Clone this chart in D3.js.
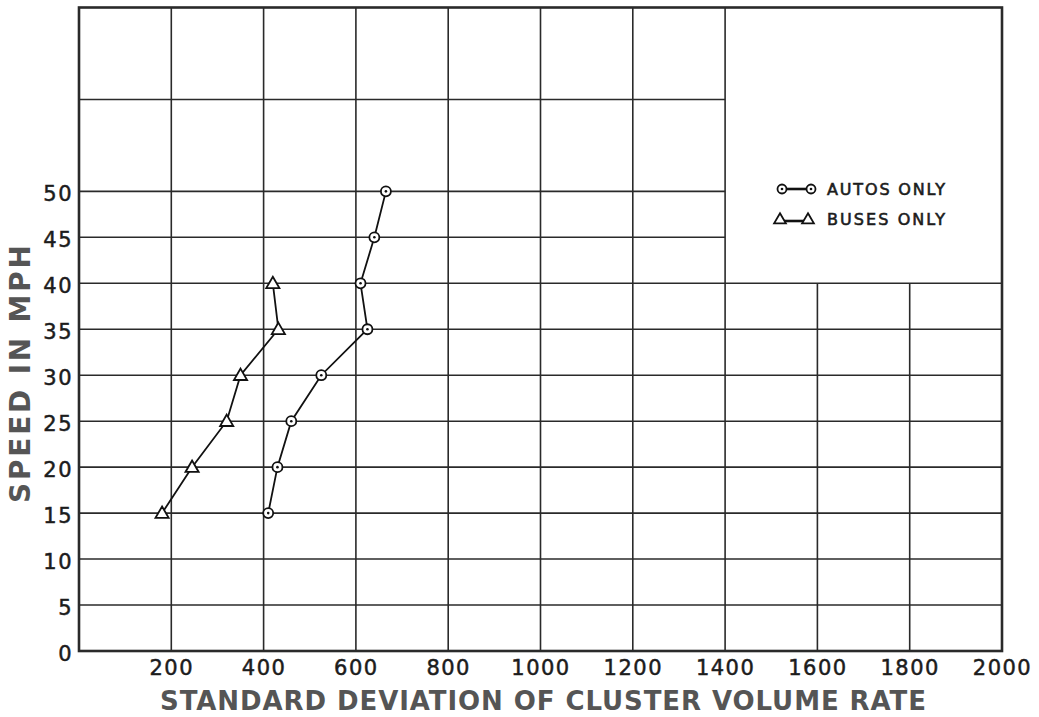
<!DOCTYPE html>
<html>
<head>
<meta charset="utf-8">
<script src="https://cdn.jsdelivr.net/npm/d3@7"></script>
<style>
  html, body { margin: 0; padding: 0; background: #fff; }
  svg { display: block; }
  text { font-family: "DejaVu Sans", "Liberation Sans", sans-serif; }
</style>
</head>
<body>
<svg id="chart" width="1039" height="717"></svg>
<script>
// Speed (mph) observed for each series
const speeds = [15, 20, 25, 30, 35, 40, 45, 50];
// Standard deviation of cluster volume rate, autos only
const autosSD = [410, 430, 460, 525, 625, 610, 640, 665];
// Buses only (measured up to 40 mph)
const busSpeeds = [15, 20, 25, 30, 35, 40];
const busesSD = [180, 245, 320, 350, 432, 420];

// Axis ticks
const xTicks = [200, 400, 600, 800, 1000, 1200, 1400, 1600, 1800, 2000];
const yTicks = [0, 5, 10, 15, 20, 25, 30, 35, 40, 45, 50];

// Grid rulings (the upper-right panel is left open for the key)
const fullVLines = [200, 400, 600, 800, 1000, 1200, 1400];
const shortVLines = [1600, 1800];          // stop at 40 mph
const fullHLines = [5, 10, 15, 20, 25, 30, 35, 40];
const shortHLines = [45, 50, 60];          // stop at 1400

const legendItems = ["AUTOS ONLY", "BUSES ONLY"];

const svg = d3.select("#chart");
const x = d3.scaleLinear().domain([0, 2000]).range([79, 1002]);
const y = d3.scaleLinear().domain([0, 70]).range([651, 7.5]);

const ink = "#2a2a2a";
const g = svg.append("g");

// grid
g.selectAll("line.fv").data(fullVLines).join("line")
  .attr("x1", d => x(d)).attr("x2", d => x(d))
  .attr("y1", y(0)).attr("y2", y(70))
  .attr("stroke", ink).attr("stroke-width", 1.6);
g.selectAll("line.sv").data(shortVLines).join("line")
  .attr("x1", d => x(d)).attr("x2", d => x(d))
  .attr("y1", y(0)).attr("y2", y(40))
  .attr("stroke", ink).attr("stroke-width", 1.6);
g.selectAll("line.fh").data(fullHLines).join("line")
  .attr("x1", x(0)).attr("x2", x(2000))
  .attr("y1", d => y(d)).attr("y2", d => y(d))
  .attr("stroke", ink).attr("stroke-width", 1.6);
g.selectAll("line.sh").data(shortHLines).join("line")
  .attr("x1", x(0)).attr("x2", x(1400))
  .attr("y1", d => y(d)).attr("y2", d => y(d))
  .attr("stroke", ink).attr("stroke-width", 1.6);

// frame
g.append("rect")
  .attr("x", x(0)).attr("y", y(70))
  .attr("width", x(2000) - x(0)).attr("height", y(0) - y(70))
  .attr("fill", "none").attr("stroke", ink).attr("stroke-width", 2.6);

// x axis labels
const xAxis = d3.axisBottom(x).tickValues(xTicks).tickSize(0).tickPadding(0)
  .tickFormat(d3.format("d"));
const xa = svg.append("g").attr("transform", `translate(0,${y(0)})`).call(xAxis);
xa.select(".domain").remove();
xa.selectAll("text")
  .attr("dy", 0).attr("y", 24)
  .attr("fill", "#1c1c1c").attr("font-size", 21).attr("letter-spacing", 1.5)
  .attr("stroke", "#1c1c1c").attr("stroke-width", 0.5);

// y axis labels
const yAxis = d3.axisLeft(y).tickValues(yTicks).tickSize(0).tickPadding(0)
  .tickFormat(d3.format("d"));
const ya = svg.append("g").attr("transform", `translate(${x(0) - 6},0)`).call(yAxis);
ya.select(".domain").remove();
ya.selectAll("text")
  .attr("dy", "0.36em").attr("x", 0).attr("y", 2)
  .attr("fill", "#1c1c1c").attr("font-size", 21).attr("letter-spacing", 1.5)
  .attr("stroke", "#1c1c1c").attr("stroke-width", 0.5);

// axis titles
svg.append("text")
  .attr("x", 543).attr("y", 710)
  .attr("text-anchor", "middle")
  .attr("textLength", 766).attr("lengthAdjust", "spacing")
  .attr("fill", "#555").attr("font-size", 26).attr("font-weight", "bold")
  .text("STANDARD DEVIATION OF CLUSTER VOLUME RATE");

svg.append("text")
  .attr("transform", "translate(30,374) rotate(-90)")
  .attr("text-anchor", "middle")
  .attr("textLength", 258).attr("lengthAdjust", "spacing")
  .attr("fill", "#555").attr("font-size", 28).attr("font-weight", "bold")
  .text("SPEED IN MPH");

// series lines
const line = d3.line().x(d => x(d[0])).y(d => y(d[1]));
const autos = autosSD.map((v, i) => [v, speeds[i]]);
const buses = busesSD.map((v, i) => [v, busSpeeds[i]]);

svg.append("path").datum(autos).attr("d", line)
  .attr("fill", "none").attr("stroke", "#111").attr("stroke-width", 1.8);
svg.append("path").datum(buses).attr("d", line)
  .attr("fill", "none").attr("stroke", "#111").attr("stroke-width", 1.8);

// markers
function circleMarker(sel, cx, cy, r = 5) {
  sel.append("circle").attr("cx", cx).attr("cy", cy).attr("r", r)
    .attr("fill", "#fff").attr("stroke", "#111").attr("stroke-width", 1.8);
  sel.append("circle").attr("cx", cx).attr("cy", cy).attr("r", 1.3).attr("fill", "#111");
}
const tri = d3.symbol().type(d3.symbolTriangle).size(75);
function triMarker(sel, cx, cy, s = tri) {
  sel.append("path").attr("d", s)
    .attr("transform", `translate(${cx},${cy + 1})`)
    .attr("fill", "#fff").attr("stroke", "#111").attr("stroke-width", 1.8);
}

const mk = svg.append("g");
autos.forEach(d => circleMarker(mk, x(d[0]), y(d[1])));
buses.forEach(d => triMarker(mk, x(d[0]), y(d[1])));

// key
const lg = svg.append("g");
const keyY = [189, 219];
const keyTri = d3.symbol().type(d3.symbolTriangle).size(60);
lg.append("line").attr("x1", 782).attr("x2", 811).attr("y1", keyY[0]).attr("y2", keyY[0])
  .attr("stroke", "#111").attr("stroke-width", 2.6);
circleMarker(lg, 782, keyY[0], 4.5);
circleMarker(lg, 811, keyY[0], 4.5);
lg.append("line").attr("x1", 780).attr("x2", 808).attr("y1", keyY[1] + 2).attr("y2", keyY[1] + 2)
  .attr("stroke", "#111").attr("stroke-width", 2.6);
triMarker(lg, 780, keyY[1], keyTri);
triMarker(lg, 808, keyY[1], keyTri);

lg.selectAll("text.key").data(legendItems).join("text")
  .attr("x", 827).attr("y", (d, i) => keyY[i] + 6)
  .attr("textLength", 118).attr("lengthAdjust", "spacing")
  .attr("fill", "#1c1c1c").attr("font-size", 16)
  .attr("stroke", "#1c1c1c").attr("stroke-width", 0.6)
  .text(d => d);
</script>
</body>
</html>
